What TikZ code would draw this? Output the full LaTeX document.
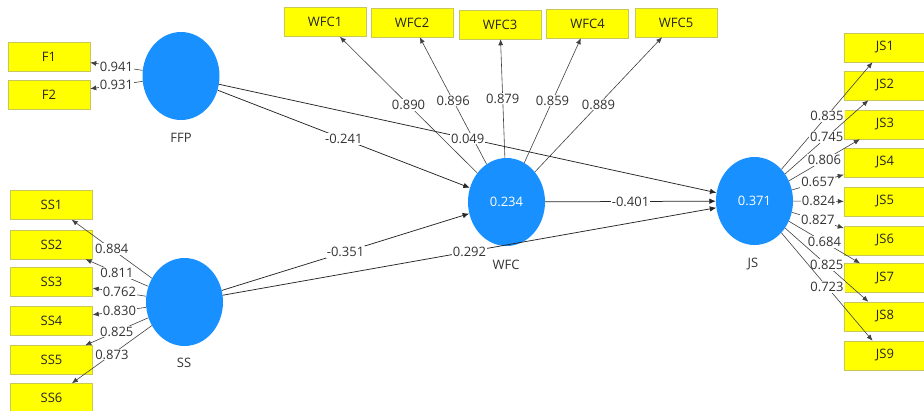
\documentclass[tikz,border=0pt]{standalone}
\usepackage{fontspec}
\setmainfont{Open Sans}
\usetikzlibrary{shapes.geometric,arrows.meta}
\definecolor{plsblue}{RGB}{24,144,255}
\definecolor{plsyellow}{RGB}{255,255,0}
\definecolor{plsedge}{RGB}{200,200,90}

\begin{document}
\begin{tikzpicture}[x=1pt, y=-1pt, font=\fontsize{13}{15}\selectfont,
	latent/.style = {ellipse, fill=plsblue, minimum width=77pt, minimum height=88pt, inner sep=0pt, text=white},
	item/.style = {rectangle, fill=plsyellow, draw=plsedge, line width=0.5pt, minimum width=82pt, minimum height=29pt, inner sep=0pt, text=black!85},
	lvname/.style = {text=black!80},
	load/.style = {draw=black!75, line width=0.6pt, -{Latex[length=6pt,width=5pt]}},
	struct/.style = {draw=black!85, line width=0.75pt, -{Latex[length=6.5pt,width=5.5pt]}},
	coef/.style = {fill=white, inner sep=1pt, text=black!80, pos=0.5},]
		\useasboundingbox (0,0) rectangle (924,410);

		% latent variables
		\node[latent] (FFP) at (181,76) {};
		\node[latent] (SS) at (184.5,302) {};
		\node[latent] (WFC) at (506.5,202) {0.234};
		\node[latent] (JS) at (754.5,201) {0.371};
		\node[lvname] (lFFP) at (181,138) {FFP};
		\node[lvname] (lSS) at (184,363) {SS};
		\node[lvname] (lWFC) at (506,265) {WFC};
		\node[lvname] (lJS) at (753,264) {JS};

		% indicators
		\node[item] (F1) at (49,56.5) {F1};
		\node[item] (F2) at (49,94.5) {F2};
		\node[item] (SS1) at (51.5,205) {SS1};
		\node[item] (SS2) at (51.5,244.5) {SS2};
		\node[item] (SS3) at (51.5,282) {SS3};
		\node[item] (SS4) at (51.5,320.5) {SS4};
		\node[item] (SS5) at (51.5,360) {SS5};
		\node[item] (SS6) at (51.5,398) {SS6};
		\node[item] (WFC1) at (325,22) {WFC1};
		\node[item] (WFC2) at (412,22.5) {WFC2};
		\node[item] (WFC3) at (500,24.5) {WFC3};
		\node[item] (WFC4) at (587.5,23.5) {WFC4};
		\node[item] (WFC5) at (676,22.5) {WFC5};
		\node[item] (JS1) at (885,47.5) {JS1};
		\node[item] (JS2) at (885,85.5) {JS2};
		\node[item] (JS3) at (885,124.5) {JS3};
		\node[item] (JS4) at (885,162.5) {JS4};
		\node[item] (JS5) at (885,201.5) {JS5};
		\node[item] (JS6) at (885,240.5) {JS6};
		\node[item] (JS7) at (885,278) {JS7};
		\node[item] (JS8) at (885,316.5) {JS8};
		\node[item] (JS9) at (885,355.5) {JS9};

		% outer loadings
		\draw[load] (FFP) -- node[coef] {0.941} (F1);
		\draw[load] (FFP) -- node[coef] {0.931} (F2);
		\draw[load] (SS) -- node[coef] {0.884} (SS1);
		\draw[load] (SS) -- node[coef] {0.811} (SS2);
		\draw[load] (SS) -- node[coef] {0.762} (SS3);
		\draw[load] (SS) -- node[coef] {0.830} (SS4);
		\draw[load] (SS) -- node[coef] {0.825} (SS5);
		\draw[load] (SS) -- node[coef] {0.873} (SS6);
		\draw[load] (WFC) -- node[coef] {0.890} (WFC1);
		\draw[load] (WFC) -- node[coef] {0.896} (WFC2);
		\draw[load] (WFC) -- node[coef] {0.879} (WFC3);
		\draw[load] (WFC) -- node[coef] {0.859} (WFC4);
		\draw[load] (WFC) -- node[coef] {0.889} (WFC5);
		\draw[load] (JS) -- node[coef] {0.835} (JS1);
		\draw[load] (JS) -- node[coef] {0.745} (JS2);
		\draw[load] (JS) -- node[coef] {0.806} (JS3);
		\draw[load] (JS) -- node[coef] {0.657} (JS4);
		\draw[load] (JS) -- node[coef] {0.824} (JS5);
		\draw[load] (JS) -- node[coef] {0.827} (JS6);
		\draw[load] (JS) -- node[coef] {0.684} (JS7);
		\draw[load] (JS) -- node[coef] {0.825} (JS8);
		\draw[load] (JS) -- node[coef] {0.723} (JS9);

		% path coefficients
		\draw[struct] (FFP) -- node[coef] {-0.241} (WFC);
		\draw[struct] (FFP) -- node[coef] {0.049} (JS);
		\draw[struct] (SS) -- node[coef] {-0.351} (WFC);
		\draw[struct] (SS) -- node[coef] {0.292} (JS);
		\draw[struct] (WFC) -- node[coef] {-0.401} (JS);
	\end{tikzpicture}
\end{document}
